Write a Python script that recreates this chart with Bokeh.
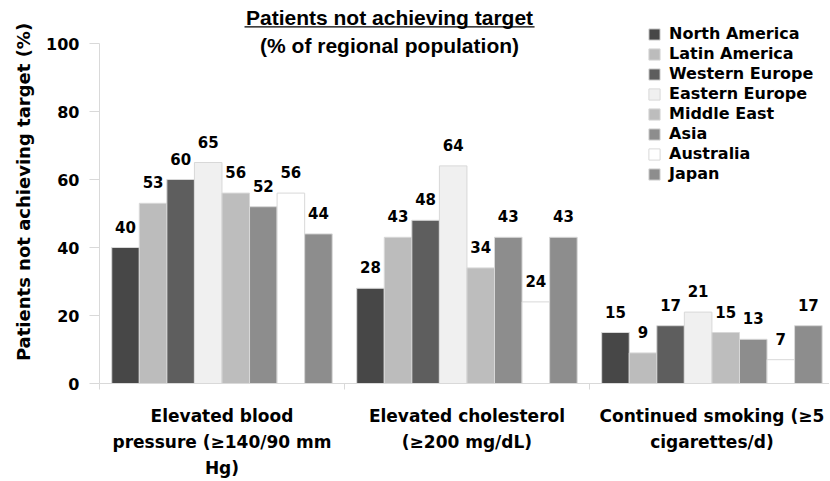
from bokeh.plotting import figure
from bokeh.models import (ColumnDataSource, LabelSet, Label, BoxAnnotation, Range1d,
                          FixedTicker, LinearAxis)
from bokeh.core.properties import value
from bokeh.embed import file_html
from bokeh.resources import INLINE

# ---- data ----
categories = ["Elevated blood\npressure (\u2265140/90 mm\nHg)",
              "Elevated cholesterol\n(\u2265200 mg/dL)",
              "Continued smoking (\u22655\ncigarettes/d)"]
regions = ["North America", "Latin America", "Western Europe", "Eastern Europe",
           "Middle East", "Asia", "Australia", "Japan"]
north_america = [40, 28, 15]
latin_america = [53, 43, 9]
western_europe = [60, 48, 17]
eastern_europe = [65, 64, 21]
middle_east = [56, 34, 15]
asia = [52, 43, 13]
australia = [56, 24, 7]
japan = [44, 43, 17]
series = [north_america, latin_america, western_europe, eastern_europe,
          middle_east, asia, australia, japan]
colors = ["#474747", "#bcbcbc", "#5e5e5e", "#f0f0f0", "#bdbdbd", "#8d8d8d", "#ffffff", "#8d8d8d"]
y_ticks = [0, 20, 40, 60, 80, 100]
title_line1 = "Patients not achieving target"
title_line2 = "(% of regional population)"
y_label = "Patients not achieving target (%)"

FONT = "DejaVu Sans"
TFONT = "Liberation Sans"
n_reg = len(regions)
group_frac = 0.9
bw = group_frac / n_reg

p = figure(frame_width=730, frame_height=383, output_backend="svg", toolbar_location=None,
           x_range=Range1d(0, 2.98), y_range=Range1d(0, 112.65),
           min_border_left=99, min_border_right=0, min_border_top=0, min_border_bottom=0,
           x_axis_location=None)
p.outline_line_color = None
p.xgrid.visible = False
p.ygrid.visible = False
p.background_fill_color = "white"

centers = [i + 0.5 for i in range(len(categories))]
for j, (name, vals, col) in enumerate(zip(regions, series, colors)):
    xs = [c + (j - (n_reg - 1) / 2) * bw for c in centers]
    src = ColumnDataSource(dict(x=xs, top=vals, lab=[str(v) for v in vals]))
    p.vbar(x="x", top="top", width=bw, source=src, fill_color=col,
           line_color="#d8d8d8", line_width=1, legend_label=name)
    p.add_layout(LabelSet(x="x", y="top", text="lab", source=src, y_offset=21,
                          text_align="center", text_baseline="middle",
                          text_font=value(FONT), text_font_size=value("15px"),
                          text_font_style=value("bold"),
                          text_color="black", background_fill_color="white"))

# y axis
yax = p.yaxis[0]
yax.ticker = FixedTicker(ticks=y_ticks)
yax.bounds = (0, 100)
yax.axis_line_color = "#d9d9d9"
yax.major_tick_line_color = "#d9d9d9"
yax.major_tick_out = 10
yax.major_tick_in = 0
yax.minor_tick_line_color = None
yax.major_label_standoff = 10
yax.major_label_text_font = FONT
yax.major_label_text_font_size = "16px"
yax.major_label_text_font_style = "bold"
yax.major_label_text_color = "black"
yax.axis_label = y_label
yax.axis_label_text_font = FONT
yax.axis_label_text_font_size = "18px"
yax.axis_label_text_font_style = "bold"
yax.axis_label_text_color = "black"
yax.axis_label_standoff = 9

# x axis
xax = LinearAxis(ticker=FixedTicker(ticks=centers, minor_ticks=list(range(len(categories) + 1))))
xax.major_label_overrides = {c: lab for c, lab in zip(centers, categories)}
xax.axis_line_color = "#d9d9d9"
xax.major_tick_line_color = None
xax.major_tick_out = 0
xax.minor_tick_line_color = "#d9d9d9"
xax.minor_tick_out = 6
xax.minor_tick_in = 0
xax.major_label_standoff = 16
xax.major_label_text_font = FONT
xax.major_label_text_font_size = "17px"
xax.major_label_text_font_style = "bold"
xax.major_label_text_color = "black"
xax.major_label_text_line_height = 1.3
p.add_layout(xax, "below")

# title
title_x = 1.184
p.add_layout(Label(x=title_x, y=107.65, text=title_line1, text_align="center", text_baseline="alphabetic",
                   text_font=TFONT, text_font_size="21px", text_font_style="bold", text_color="black"))
p.add_layout(Label(x=title_x, y=99.3, text=title_line2, text_align="center", text_baseline="alphabetic",
                   text_font=TFONT, text_font_size="21px", text_font_style="bold", text_color="black"))
p.add_layout(BoxAnnotation(left=0.592, right=1.776, bottom=104.7, top=105.05,
                           fill_color="black", fill_alpha=1, line_color=None))

# legend
lg = p.legend[0]
lg.location = (544, 196)
lg.glyph_width = 14
lg.glyph_height = 14
lg.label_height = 14
lg.spacing = 1
lg.padding = 4
lg.margin = 0
lg.label_standoff = 8
lg.border_line_alpha = 0
lg.background_fill_alpha = 0
lg.label_text_font = FONT
lg.label_text_font_size = "16px"
lg.label_text_font_style = "bold"
lg.label_text_color = "black"

open("out.html", "w").write(file_html(p, INLINE))
